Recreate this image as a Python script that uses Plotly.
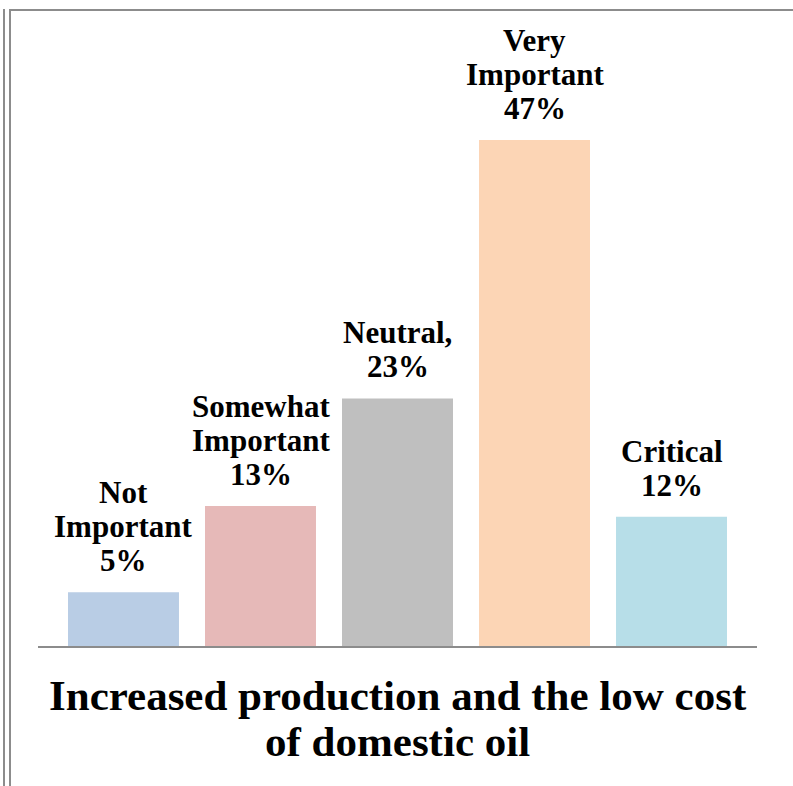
import plotly.graph_objects as go

categories = ["Not Important", "Somewhat Important", "Neutral", "Very Important", "Critical"]
values = [5, 13, 23, 47, 12]
label_lines = [
    ["Not", "Important", "5%"],
    ["Somewhat", "Important", "13%"],
    ["Neutral,", "23%"],
    ["Very", "Important", "47%"],
    ["Critical", "12%"],
]
colors = ["#B9CDE5", "#E6B9B8", "#BFBFBF", "#FCD5B5", "#B7DEE8"]
title_lines = ["Increased production and the low cost", "of domestic oil"]

W, H = 793, 786
L, R, T, B = 38, 36, 20, 140
plot_w = W - L - R
plot_h = H - T - B

FONT = "Liberation Serif"

fig = go.Figure()
fig.add_trace(go.Bar(
    x=categories, y=values,
    marker=dict(color=colors, line=dict(width=0)),
    hoverinfo="skip",
))

annotations = []
for cat, val, lines in zip(categories, values, label_lines):
    n = len(lines)
    for i, line in enumerate(lines):
        annotations.append(dict(
            x=cat, y=val, xref="x", yref="y",
            text="<b>%s</b>" % line, showarrow=False,
            yanchor="bottom", xanchor="center",
            yshift=12 + (n - 1 - i) * 34,
            font=dict(family=FONT, size=31, color="black"),
        ))

def py2paper(py):
    return (H - B - py) / plot_h

def px2paper(px):
    return (px - L) / plot_w

title_bottoms = [721, 767]
for line, bot in zip(title_lines, title_bottoms):
    annotations.append(dict(
        x=0.5, y=py2paper(bot), xref="paper", yref="paper",
        text="<b>%s</b>" % line, showarrow=False,
        yanchor="bottom", xanchor="center",
        font=dict(family=FONT, size=43, color="black"),
    ))

border = dict(color="#8C8C8C", width=2)
shapes = [
    dict(type="line", xref="paper", yref="paper", x0=px2paper(4), x1=px2paper(4),
         y0=py2paper(9), y1=py2paper(H), line=border),
    dict(type="line", xref="paper", yref="paper", x0=px2paper(10), x1=px2paper(10),
         y0=py2paper(9), y1=py2paper(H), line=border),
    dict(type="line", xref="paper", yref="paper", x0=px2paper(9), x1=px2paper(W),
         y0=py2paper(10), y1=py2paper(10), line=border),
]

fig.update_layout(
    width=W, height=H,
    margin=dict(l=L, r=R, t=T, b=B, pad=0),
    paper_bgcolor="white", plot_bgcolor="white",
    showlegend=False,
    bargap=0.19,
    xaxis=dict(range=[-0.624, 4.624], showticklabels=False, ticks="",
               showgrid=False, zeroline=False, showline=True,
               linecolor="#8C8C8C", linewidth=2, fixedrange=True),
    yaxis=dict(range=[0, plot_h / 10.766], visible=False, showgrid=False,
               zeroline=False, fixedrange=True),
    annotations=annotations,
    shapes=shapes,
)

fig.write_html("out.html", config={"displayModeBar": False})

# remove default page margin so the figure sits at the window origin
with open("out.html", "r", encoding="utf-8") as f:
    html = f.read()
html = html.replace("<body>", '<body style="margin:0;padding:0;overflow:hidden">', 1)
with open("out.html", "w", encoding="utf-8") as f:
    f.write(html)
